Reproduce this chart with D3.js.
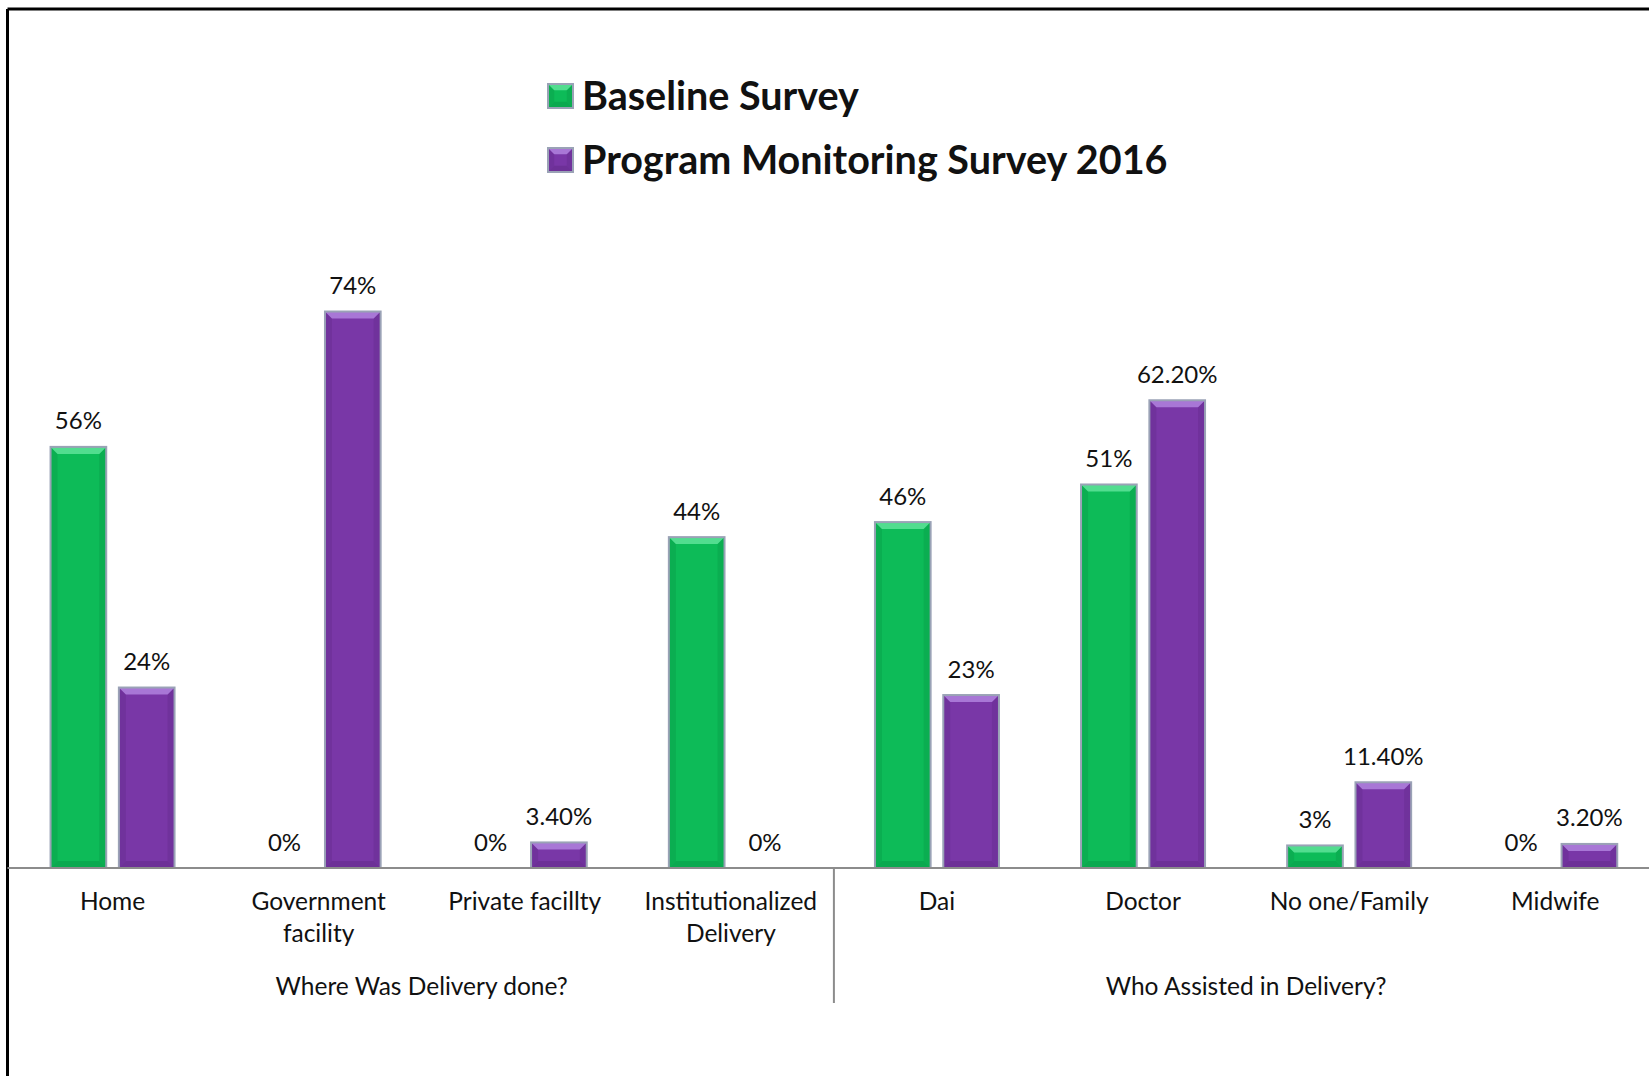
<!DOCTYPE html>
<html>
<head>
<meta charset="utf-8">
<script src="https://cdn.jsdelivr.net/npm/d3@7"></script>
<style>
  html, body { margin: 0; padding: 0; background: #fff; }
  svg { display: block; }
  text { font-family: Lato, "Open Sans", sans-serif; fill: #111; }
</style>
</head>
<body>
<svg id="chart" width="1649" height="1076"></svg>
<script>
// Delivery place and birth attendant, baseline vs. 2016 monitoring survey (%)
const categories = ["Home", "Government facility", "Private facillty", "Institutionalized Delivery",
                    "Dai", "Doctor", "No one/Family", "Midwife"];
const categoryLines = [["Home"], ["Government", "facility"], ["Private facillty"], ["Institutionalized", "Delivery"],
                       ["Dai"], ["Doctor"], ["No one/Family"], ["Midwife"]];
const groups = ["Where Was Delivery done?", "Who Assisted in Delivery?"];
const groupSizes = [4, 4];
const seriesNames = ["Baseline Survey", "Program Monitoring Survey 2016"];
const baseline = [56, 0, 0, 44, 46, 51, 3, 0];
const monitoring = [24, 74, 3.4, 0, 23, 62.2, 11.4, 3.2];
const baselineLabels = ["56%", "0%", "0%", "44%", "46%", "51%", "3%", "0%"];
const monitoringLabels = ["24%", "74%", "3.40%", "0%", "23%", "62.20%", "11.40%", "3.20%"];

const palette = [
  { base: "#0dbb58", light: "#52dd8f", dark: "#0aa54d" },
  { base: "#7937a7", light: "#a877d6", dark: "#6a2e94" }
];

const svg = d3.select("#chart");

const bandStep = 206.1;
const x0 = d3.scaleBand().domain(categories)
  .range([9.5, 9.5 + bandStep * categories.length]).padding(0);
const x1 = d3.scaleBand().domain([0, 1]).range([-62, 62]).paddingInner(0.185).paddingOuter(0);
const y = d3.scaleLinear().domain([0, 100]).range([868, 116]);

// frame (top and left edges visible)
svg.append("line").attr("x1", 7.5).attr("x2", 1649).attr("y1", 9).attr("y2", 9)
  .attr("stroke", "#000").attr("stroke-width", 3);
svg.append("line").attr("x1", 7.5).attr("x2", 7.5).attr("y1", 9).attr("y2", 1076)
  .attr("stroke", "#000").attr("stroke-width", 3);

// bevelled bar
function bevelBar(g, x, yTop, w, h, col) {
  const d = Math.min(7, h / 2.2, w / 4);
  const b = g.append("g");
  b.append("rect").attr("x", x).attr("y", yTop).attr("width", w).attr("height", h)
    .attr("fill", col.base);
  if (h > 0) {
    b.append("polygon").attr("fill", col.dark).attr("opacity", 0.6)
      .attr("points", [[x, yTop], [x + d, yTop + d], [x + d, yTop + h - d], [x, yTop + h]].join(" "));
    b.append("polygon").attr("fill", col.dark).attr("opacity", 0.6)
      .attr("points", [[x + w, yTop], [x + w - d, yTop + d], [x + w - d, yTop + h - d], [x + w, yTop + h]].join(" "));
    b.append("polygon").attr("fill", col.dark).attr("opacity", 0.8)
      .attr("points", [[x, yTop + h], [x + d, yTop + h - d], [x + w - d, yTop + h - d], [x + w, yTop + h]].join(" "));
    b.append("polygon").attr("fill", col.light)
      .attr("points", [[x, yTop], [x + w, yTop], [x + w - d, yTop + d], [x + d, yTop + d]].join(" "));
  }
  b.append("rect").attr("x", x).attr("y", yTop).attr("width", w).attr("height", h)
    .attr("fill", "none").attr("stroke", "#9aa2b6").attr("stroke-width", 2);
  return b;
}

const seriesValues = [baseline, monitoring];
const seriesLabels = [baselineLabels, monitoringLabels];

const barsG = svg.append("g");
seriesValues.forEach((vals, s) => {
  vals.forEach((v, i) => {
    const cx = x0(categories[i]) + x0.bandwidth() / 2;
    const bx = cx + x1(s);
    const w = x1.bandwidth();
    const top = y(v);
    if (v > 0) bevelBar(barsG, bx, top, w, y(0) - top, palette[s]);
    barsG.append("text")
      .attr("x", bx + w / 2).attr("y", top - 17.5)
      .attr("text-anchor", "middle").attr("font-size", 24)
      .text(seriesLabels[s][i]);
  });
});

// category axis line
svg.append("line").attr("x1", 7.5).attr("x2", 1649).attr("y1", y(0)).attr("y2", y(0))
  .attr("stroke", "#8c8c8c").attr("stroke-width", 2);

// category labels
const catG = svg.append("g");
categories.forEach((c, i) => {
  const cx = x0(c) + x0.bandwidth() / 2;
  const t = catG.append("text").attr("text-anchor", "middle").attr("font-size", 24.5);
  categoryLines[i].forEach((ln, k) => {
    t.append("tspan").attr("x", cx).attr("y", 910 + k * 32).text(ln);
  });
});

// group labels and divider
let start = 0;
groups.forEach((gname, gi) => {
  const first = categories[start];
  const last = categories[start + groupSizes[gi] - 1];
  const gx0 = x0(first), gx1 = x0(last) + x0.bandwidth();
  svg.append("text").attr("x", (gx0 + gx1) / 2).attr("y", 995)
    .attr("text-anchor", "middle").attr("font-size", 24.5).text(gname);
  if (gi > 0) {
    svg.append("line").attr("x1", gx0).attr("x2", gx0).attr("y1", y(0)).attr("y2", 1003)
      .attr("stroke", "#8c8c8c").attr("stroke-width", 2);
  }
  start += groupSizes[gi];
});

// legend
const legend = svg.append("g");
seriesNames.forEach((name, s) => {
  const cy = 96 + s * 64;
  bevelBar(legend, 548, cy - 12, 25, 24, palette[s]);
  legend.append("text").attr("x", 582).attr("y", cy + 13.5)
    .attr("font-size", 39.5).attr("font-weight", "bold").text(name);
});
</script>
</body>
</html>
